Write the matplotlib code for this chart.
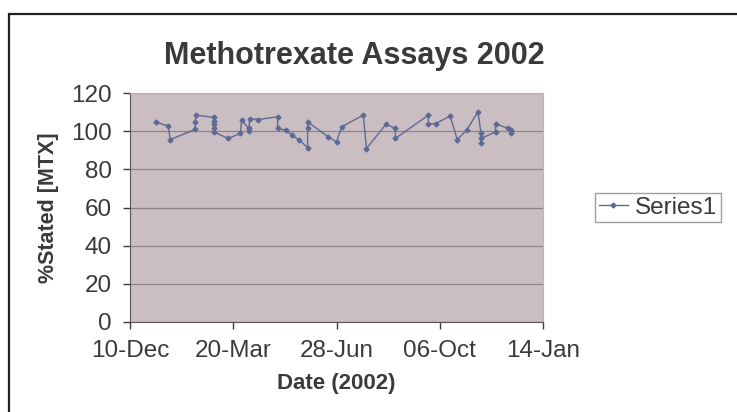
import matplotlib
matplotlib.use("Agg")
import matplotlib.pyplot as plt
import matplotlib.dates as mdates
import pandas as pd
from matplotlib.patches import Rectangle

## Data
dates = ["2002-01-04", "2002-01-16", "2002-01-18", "2002-02-11", "2002-02-11", "2002-02-12",
         "2002-03-01", "2002-03-01", "2002-03-01", "2002-03-01", "2002-03-01", "2002-03-15",
         "2002-03-27", "2002-03-28", "2002-04-04", "2002-04-04", "2002-04-05", "2002-04-13",
         "2002-05-02", "2002-05-02", "2002-05-10", "2002-05-16", "2002-05-23", "2002-05-31",
         "2002-05-31", "2002-05-31", "2002-06-20", "2002-06-28", "2002-07-03", "2002-07-24",
         "2002-07-27", "2002-08-15", "2002-08-24", "2002-08-24", "2002-09-25", "2002-09-25",
         "2002-10-02", "2002-10-16", "2002-10-23", "2002-11-01", "2002-11-12", "2002-11-15",
         "2002-11-15", "2002-11-15", "2002-11-29", "2002-11-29", "2002-12-11", "2002-12-14",
         "2002-12-14"]
stated = [104.9, 102.6, 95.6, 100.9, 104.9, 108.4,
          107.2, 105.4, 103.7, 101.4, 99.6, 96.2,
          98.8, 105.8, 101.4, 100.2, 106.6, 106.1,
          107.5, 101.4, 100.5, 97.9, 95.3, 91.4,
          101.4, 104.9, 97.0, 94.4, 102.3, 108.4,
          90.9, 103.7, 101.4, 96.2, 108.4, 103.7,
          104.0, 107.9, 95.6, 100.5, 110.1, 98.8,
          93.6, 96.2, 99.6, 104.0, 101.4, 100.5,
          98.8]
tick_dates = ["2001-12-10", "2002-03-20", "2002-06-28", "2002-10-06", "2003-01-14"]
y_ticks = [0, 20, 40, 60, 80, 100, 120]

x = pd.to_datetime(dates)
xt = pd.to_datetime(tick_dates)

plt.rcParams['font.family'] = ['Liberation Sans', 'DejaVu Sans']
txt = '#3a3a3a'

fig = plt.figure(figsize=(7.37, 4.12), dpi=100)
fig.patch.set_facecolor('white')

# outer chart frame
fig.patches.append(Rectangle((9/737, -0.05), 1.0, 1 - 14/412 + 0.05, transform=fig.transFigure,
                             fill=False, edgecolor='#222222', linewidth=1.6))

ax = fig.add_axes([130/737, 1 - 322/412, 413/737, 229/412])
ax.set_facecolor('#cbbec3')
ax.plot(x, stated, color='#5b6b94', linewidth=1.0, marker='D', markersize=2.5, label='Series1')

ax.set_xlim(xt[0], xt[-1])
ax.set_ylim(0, 120)
ax.set_xticks(xt)
ax.xaxis.set_major_formatter(mdates.DateFormatter('%d-%b'))
ax.set_yticks(y_ticks)
ax.yaxis.grid(True, color='#8c8486', linewidth=0.9)
ax.set_axisbelow(True)

ax.tick_params(axis='both', labelsize=17.5, colors=txt, length=5, width=1, direction='out')
ax.tick_params(axis='y', pad=8)
ax.tick_params(axis='x', pad=8)
for s in ['left', 'bottom']:
    ax.spines[s].set_color('#555555')
for s in ['top', 'right']:
    ax.spines[s].set_color('#bbb3b6')

ax.set_title('Methotrexate Assays 2002', fontsize=22, fontweight='bold', color=txt, pad=21, x=0.542)
ax.set_ylabel('%Stated [MTX]', fontsize=15.5, fontweight='bold', color=txt, labelpad=9)
ax.set_xlabel('Date (2002)', fontsize=16, fontweight='bold', color=txt, labelpad=8)

leg = ax.legend(loc='center left', bbox_to_anchor=(1.126, 0.5), fontsize=17.5, frameon=True,
                fancybox=False, edgecolor='#888888', handlelength=1.2, borderpad=0.15,
                borderaxespad=0, handletextpad=0.3, labelcolor=txt)
leg.get_frame().set_linewidth(1.0)

fig.savefig('out.png', dpi=100)
